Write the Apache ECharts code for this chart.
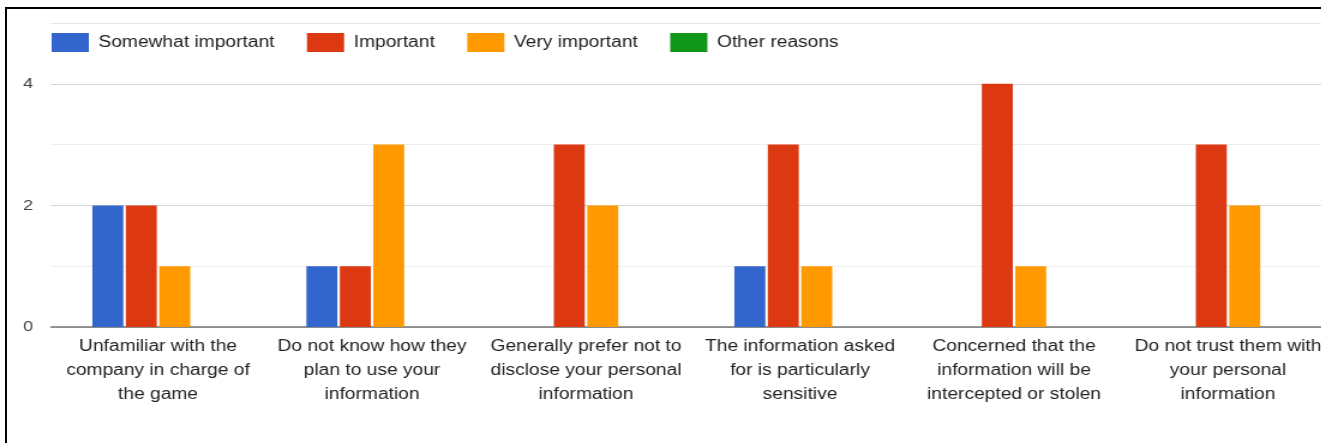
<!DOCTYPE html>
<html>
<head>
<meta charset="utf-8">
<script src="https://cdn.jsdelivr.net/npm/echarts@6/dist/echarts.min.js"></script>
<style>
  html, body { margin: 0; padding: 0; background: #fff; overflow: hidden; }
  #wrap { position: relative; width: 1321px; height: 443px; overflow: hidden; }
  /* chart is laid out narrower and stretched horizontally; its right edge runs past the frame */
  #chart { position: absolute; left: 0; top: 0; width: 1113px; height: 443px;
           transform: scaleX(1.2); transform-origin: 0 0; }
  #frame { position: absolute; left: 5px; top: 7px; right: -10px; bottom: -10px;
           border-left: 2px solid #000; border-top: 2px solid #000; pointer-events: none; }
</style>
</head>
<body>
<div id="wrap">
  <div id="chart"></div>
  <div id="frame"></div>
</div>
<script>
// Reasons for not sharing personal information, counted by importance
const categories = [
  'Unfamiliar with the\ncompany in charge of\nthe game',
  'Do not know how they\nplan to use your\ninformation',
  'Generally prefer not to\ndisclose your personal\ninformation',
  'The information asked\nfor is particularly\nsensitive',
  'Concerned that the\ninformation will be\nintercepted or stolen',
  'Do not trust them with\nyour personal\ninformation'
];
const seriesNames = ['Somewhat important', 'Important', 'Very important', 'Other reasons'];
const somewhatImportant = [2, 1, 0, 1, 0, 0];
const important = [2, 1, 3, 3, 4, 3];
const veryImportant = [1, 3, 2, 1, 1, 2];
const otherReasons = [0, 0, 0, 0, 0, 0];
const yTickLabels = [0, 2, 4];

const colors = ['#3366cc', '#dc3912', '#ff9900', '#109618'];
const values = [somewhatImportant, important, veryImportant, otherReasons];

const chart = echarts.init(document.getElementById('chart'), null, { renderer: 'canvas' });

chart.setOption({
  animation: false,
  color: colors,
  textStyle: { fontFamily: '"Liberation Sans", Arial, sans-serif' },
  legend: {
    left: 38,
    top: 28,
    itemWidth: 31,
    itemHeight: 19,
    itemGap: 27,
    icon: 'rect',
    textStyle: { fontSize: 16, color: '#222', padding: [0, 0, 0, 3] },
    data: seriesNames
  },
  grid: { left: 42.5, top: 23, right: 0.5, bottom: 116, containLabel: false },
  xAxis: {
    type: 'category',
    data: categories,
    axisTick: { show: false },
    axisLine: { lineStyle: { color: '#777', width: 1.5 } },
    axisLabel: {
      interval: 0,
      margin: 8,
      fontSize: 16,
      lineHeight: 24,
      color: '#222',
      align: 'center'
    }
  },
  yAxis: {
    type: 'value',
    min: 0,
    max: 5,
    interval: 1,
    axisLine: { show: false },
    axisTick: { show: false },
    axisLabel: {
      margin: 15,
      fontSize: 15,
      color: '#444',
      formatter: v => (yTickLabels.indexOf(v) >= 0 ? String(v) : '')
    },
    splitLine: {
      lineStyle: { color: ['#cccccc', '#eeeeee', '#d6d6d6', '#eeeeee', '#d6d6d6', '#e6e6e6'], width: 1.2 }
    }
  },
  series: seriesNames.map((name, i) => ({
    name: name,
    type: 'bar',
    data: values[i],
    barWidth: 25.8,
    barGap: '8%',
    itemStyle: { color: colors[i] }
  }))
});
</script>
</body>
</html>
